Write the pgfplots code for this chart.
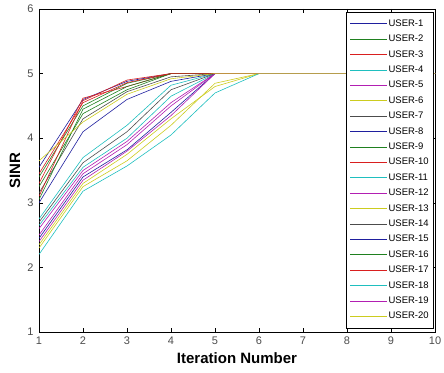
\documentclass[border=0pt]{standalone}
\usepackage{pgfplots}
\pgfplotsset{compat=1.18}
\usepackage{fontspec}
\setmainfont{Liberation Sans}
\definecolor{mb}{rgb}{0.12,0.12,0.62}
\definecolor{mg}{rgb}{0.12,0.5,0.12}
\definecolor{mr}{rgb}{0.85,0.12,0.12}
\definecolor{mc}{rgb}{0.12,0.75,0.75}
\definecolor{mm}{rgb}{0.7,0.12,0.7}
\definecolor{my}{rgb}{0.8,0.8,0.12}
\definecolor{mk}{rgb}{0.3,0.3,0.3}
\begin{document}
\begin{tikzpicture}
\begin{axis}[
  scale only axis, width=396pt, height=323pt,
  xmin=1, xmax=10, ymin=1, ymax=6,
  xtick={1,...,10}, ytick={1,...,6},
  tick align=inside, major tick length=4pt,
  axis line style={line width=0.6pt},
  every tick/.style={black, line width=0.5pt},
  tick label style={font=\fontsize{11}{12}\selectfont, text=black!70},
  yticklabel style={xshift=-2pt},
  xticklabel style={yshift=-1pt},
  /pgf/number format/assume math mode=true,
  xlabel={Iteration Number}, ylabel={SINR},
  label style={font=\fontsize{15}{16}\selectfont\bfseries},
  xlabel style={at={(rel axis cs:0.5,0)}, anchor=center, yshift=-26pt},
  ylabel style={at={(rel axis cs:0,0.5)}, anchor=center, yshift=24pt},
  every axis plot/.append style={line width=0.6pt, mark=none},
  legend cell align=left,
  legend image code/.code={\draw[#1, line width=0.7pt] (0pt,0pt) -- (37pt,0pt);},
  legend style={at={(rel axis cs:1,1)}, anchor=north east, xshift=-1pt, yshift=-3pt,
    draw=black, line width=0.6pt, fill=white,
    font=\fontsize{9.5}{10}\selectfont, row sep=4.4pt, inner xsep=4pt, inner ysep=6pt,
    nodes={inner sep=1pt, text height=7pt, text depth=2pt}},
]
% USER-1 (upper)
\addplot[mb] coordinates {(1,3.55) (2,4.60) (3,4.88) (4,5) (5,5) (6,5) (7,5) (8,5) (9,5) (10,5)};
% USER-2 (upper)
\addplot[mg] coordinates {(1,3.40) (2,4.50) (3,4.85) (4,5) (5,5) (6,5) (7,5) (8,5) (9,5) (10,5)};
% USER-3 (upper)
\addplot[mr] coordinates {(1,3.30) (2,4.62) (3,4.80) (4,5) (5,5) (6,5) (7,5) (8,5) (9,5) (10,5)};
% USER-4 (lower)
\addplot[mc] coordinates {(1,2.65) (2,3.55) (3,4.00) (4,4.65) (5,5) (6,5) (7,5) (8,5) (9,5) (10,5)};
% USER-5 (lower)
\addplot[mm] coordinates {(1,2.60) (2,3.50) (3,3.95) (4,4.55) (5,5) (6,5) (7,5) (8,5) (9,5) (10,5)};
% USER-6 (lower)
\addplot[my] coordinates {(1,2.35) (2,3.30) (3,3.75) (4,4.30) (5,4.80) (6,5) (7,5) (8,5) (9,5) (10,5)};
% USER-7 (upper)
\addplot[mk] coordinates {(1,3.15) (2,4.30) (3,4.72) (4,4.95) (5,5) (6,5) (7,5) (8,5) (9,5) (10,5)};
% USER-8 (lower)
\addplot[mb] coordinates {(1,2.45) (2,3.40) (3,3.82) (4,4.40) (5,5) (6,5) (7,5) (8,5) (9,5) (10,5)};
% USER-9 (upper)
\addplot[mg] coordinates {(1,3.25) (2,4.38) (3,4.75) (4,5) (5,5) (6,5) (7,5) (8,5) (9,5) (10,5)};
% USER-10 (upper)
\addplot[mr] coordinates {(1,3.10) (2,4.58) (3,4.90) (4,5) (5,5) (6,5) (7,5) (8,5) (9,5) (10,5)};
% USER-11 (lower)
\addplot[mc] coordinates {(1,2.75) (2,3.70) (3,4.20) (4,4.82) (5,5) (6,5) (7,5) (8,5) (9,5) (10,5)};
% USER-12 (lower)
\addplot[mm] coordinates {(1,2.50) (2,3.45) (3,3.90) (4,4.50) (5,5) (6,5) (7,5) (8,5) (9,5) (10,5)};
% USER-13 (lower)
\addplot[my] coordinates {(1,2.30) (2,3.25) (3,3.65) (4,4.20) (5,4.85) (6,5) (7,5) (8,5) (9,5) (10,5)};
% USER-14 (lower)
\addplot[mk] coordinates {(1,2.70) (2,3.62) (3,4.10) (4,4.75) (5,5) (6,5) (7,5) (8,5) (9,5) (10,5)};
% USER-15 (upper)
\addplot[mb] coordinates {(1,3.00) (2,4.10) (3,4.60) (4,4.88) (5,5) (6,5) (7,5) (8,5) (9,5) (10,5)};
% USER-16 (upper)
\addplot[mg] coordinates {(1,3.05) (2,4.45) (3,4.80) (4,5) (5,5) (6,5) (7,5) (8,5) (9,5) (10,5)};
% USER-17 (upper)
\addplot[mr] coordinates {(1,3.45) (2,4.55) (3,4.86) (4,5) (5,5) (6,5) (7,5) (8,5) (9,5) (10,5)};
% USER-18 (lower)
\addplot[mc] coordinates {(1,2.20) (2,3.18) (3,3.57) (4,4.05) (5,4.70) (6,5) (7,5) (8,5) (9,5) (10,5)};
% USER-19 (lower)
\addplot[mm] coordinates {(1,2.40) (2,3.35) (3,3.80) (4,4.35) (5,5) (6,5) (7,5) (8,5) (9,5) (10,5)};
% USER-20 (upper)
\addplot[my] coordinates {(1,3.65) (2,4.25) (3,4.68) (4,4.92) (5,5) (6,5) (7,5) (8,5) (9,5) (10,5)};
\legend{USER-1,USER-2,USER-3,USER-4,USER-5,USER-6,USER-7,USER-8,USER-9,USER-10,USER-11,USER-12,USER-13,USER-14,USER-15,USER-16,USER-17,USER-18,USER-19,USER-20}
\coordinate (bl) at (rel axis cs:0,0);
\coordinate (tr) at (rel axis cs:1,1);
\end{axis}
\pgfresetboundingbox
\path (bl) ++(-39pt,-40pt) coordinate (BL);
\path (tr) ++(9pt,9pt) coordinate (TR);
\path[use as bounding box] (BL) rectangle (TR);
\end{tikzpicture}
\end{document}
